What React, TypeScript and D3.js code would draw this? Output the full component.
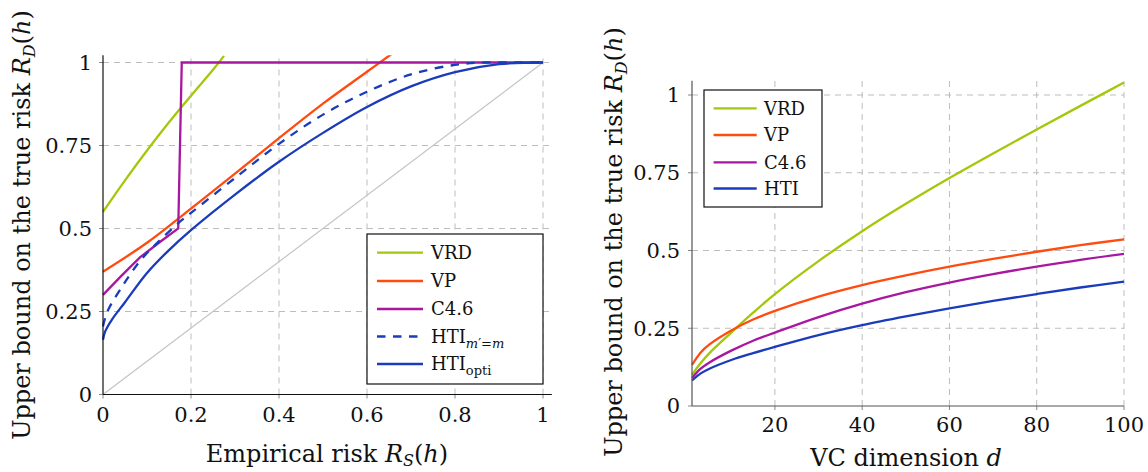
import React from "react";
import * as d3 from "d3";

// ---------- data: left chart (bound vs empirical risk) ----------
const vrdLX = [0, 0.05, 0.1, 0.15, 0.2, 0.25, 0.275];
const vrdLY = [0.55, 0.645, 0.735, 0.82, 0.9, 0.978, 1.02];
const vpLX = [0, 0.1, 0.2, 0.3, 0.4, 0.5, 0.6, 0.655];
const vpLY = [0.37, 0.457, 0.56, 0.665, 0.772, 0.876, 0.972, 1.025];
const c46LX = [0, 0.04, 0.084, 0.13, 0.171, 0.179, 1];
const c46LY = [0.3, 0.355, 0.413, 0.46, 0.5, 1.0, 1.0];
const htiMLX = [0, 0.01, 0.046, 0.084, 0.122, 0.171, 0.2, 0.3, 0.4, 0.5, 0.6, 0.7, 0.8, 0.87, 0.95, 1];
const htiMLY = [0.205, 0.25, 0.33, 0.402, 0.455, 0.516, 0.547, 0.652, 0.755, 0.843, 0.912, 0.964, 0.993, 1.0, 1.0, 1.0];
const htiOLX = [0, 0.005, 0.02, 0.05, 0.1, 0.15, 0.2, 0.3, 0.4, 0.5, 0.6, 0.7, 0.8, 0.9, 1];
const htiOLY = [0.165, 0.19, 0.225, 0.278, 0.366, 0.435, 0.495, 0.602, 0.701, 0.788, 0.866, 0.928, 0.971, 0.995, 1.0];
const diagX = [0, 1];
const diagY = [0, 1];
const leftXTicks = [0, 0.2, 0.4, 0.6, 0.8, 1];
const leftXTickLabels = ["0", "0.2", "0.4", "0.6", "0.8", "1"];
const yTicks = [0, 0.25, 0.5, 0.75, 1];
const yTickLabels = ["0", "0.25", "0.5", "0.75", "1"];

// ---------- data: right chart (bound vs VC dimension) ----------
const dims = [1, 3, 5, 10, 15, 20, 30, 40, 50, 60, 70, 80, 90, 100];
const vrdR = [0.1, 0.138, 0.17, 0.236, 0.3, 0.36, 0.466, 0.562, 0.65, 0.733, 0.812, 0.889, 0.965, 1.04];
const vpR = [0.132, 0.172, 0.198, 0.243, 0.278, 0.306, 0.352, 0.389, 0.42, 0.448, 0.473, 0.496, 0.517, 0.536];
const c46R = [0.09, 0.12, 0.14, 0.178, 0.21, 0.236, 0.286, 0.329, 0.366, 0.397, 0.424, 0.448, 0.47, 0.489];
const htiR = [0.082, 0.105, 0.12, 0.148, 0.17, 0.19, 0.228, 0.26, 0.288, 0.314, 0.338, 0.36, 0.381, 0.4];
const rightXTicks = [20, 40, 60, 80, 100];

const GREEN = "#a3c70a";
const ORANGE = "#ff4b10";
const MAGENTA = "#a8179f";
const BLUE = "#1b3cba";
const GRID = "#bdbdbd";
const FONT = "DejaVu Serif";

type Pt = [number, number];
const zip = (xs: number[], ys: number[]): Pt[] => xs.map((x, i) => [x, ys[i]]);

function YLabel({ x, y }: { x: number; y: number }) {
  return (
    <text
      transform={`translate(${x},${y}) rotate(-90)`}
      textAnchor="middle"
      fontFamily={FONT}
      fontSize={24}
      fill="#111"
    >
      Upper bound on the true risk{" "}
      <tspan fontStyle="italic">R</tspan>
      <tspan fontStyle="italic" fontSize={16} dy={5}>D</tspan>
      <tspan dy={-5}>(</tspan>
      <tspan fontStyle="italic">h</tspan>)
    </text>
  );
}

function LeftChart() {
  const x = d3.scaleLinear().domain([0, 1]).range([103, 543]);
  const y = d3.scaleLinear().domain([0, 1]).range([394.5, 62.5]);
  const xEnd = x(1.02);
  const yTop = y(1.022);
  const line = d3
    .line<Pt>()
    .x((d) => x(d[0]))
    .y((d) => y(d[1]))
    .curve(d3.curveCatmullRom.alpha(0.5));
  const lineLin = d3
    .line<Pt>()
    .x((d) => x(d[0]))
    .y((d) => y(d[1]));

  const legend = [
    { label: "VRD", color: GREEN, dash: undefined as string | undefined, sub: "" },
    { label: "VP", color: ORANGE, dash: undefined, sub: "" },
    { label: "C4.6", color: MAGENTA, dash: undefined, sub: "" },
    { label: "HTI", color: BLUE, dash: "8.5,7.5", sub: "m" },
    { label: "HTI", color: BLUE, dash: undefined, sub: "opti" },
  ];
  const legY = [252.7, 281, 309, 336.5, 364];

  return (
    <g>
      <defs>
        <clipPath id="clipL">
          <rect x={x(0) - 2} y={yTop} width={xEnd - x(0) + 4} height={y(0) - yTop + 2} />
        </clipPath>
      </defs>
      {leftXTicks.slice(1).map((t) => (
        <line key={"gx" + t} x1={x(t)} x2={x(t)} y1={y(0)} y2={yTop} stroke={GRID} strokeDasharray="6,5" />
      ))}
      {yTicks.slice(1).map((t) => (
        <line key={"gy" + t} x1={x(0)} x2={xEnd} y1={y(t)} y2={y(t)} stroke={GRID} strokeDasharray="6,5" />
      ))}
      {leftXTicks.map((t) => (
        <line key={"tx" + t} x1={x(t)} x2={x(t)} y1={y(0)} y2={y(0) + 4} stroke="#888" />
      ))}
      {yTicks.map((t) => (
        <line key={"ty" + t} x1={x(0) - 4} x2={x(0)} y1={y(t)} y2={y(t)} stroke="#888" />
      ))}
      <path d={lineLin(zip(diagX, diagY)) || ""} fill="none" stroke="#c4c4c4" strokeWidth={1.2} />
      <g clipPath="url(#clipL)" fill="none" strokeWidth={2.3}>
        <path d={line(zip(vrdLX, vrdLY)) || ""} stroke={GREEN} />
        <path d={line(zip(vpLX, vpLY)) || ""} stroke={ORANGE} />
        <path d={lineLin(zip(c46LX, c46LY)) || ""} stroke={MAGENTA} />
        <path d={line(zip(htiMLX, htiMLY)) || ""} stroke={BLUE} strokeDasharray="8.5,7.5" />
        <path d={line(zip(htiOLX, htiOLY)) || ""} stroke={BLUE} />
      </g>
      <line x1={x(0)} x2={x(0)} y1={y(0)} y2={yTop} stroke="#111" strokeWidth={1.2} />
      <line x1={x(0)} x2={xEnd} y1={y(0)} y2={y(0)} stroke="#111" strokeWidth={1.2} />
      {leftXTicks.map((t, i) => (
        <text key={"lx" + t} x={x(t)} y={y(0) + 20} dy="0.35em" textAnchor="middle" fontFamily={FONT} fontSize={21} fill="#111">
          {leftXTickLabels[i]}
        </text>
      ))}
      {yTicks.map((t, i) => (
        <text key={"ly" + t} x={92} y={y(t)} dy="0.35em" textAnchor="end" fontFamily={FONT} fontSize={21} fill="#111">
          {yTickLabels[i]}
        </text>
      ))}
      <text x={327} y={462} textAnchor="middle" fontFamily={FONT} fontSize={24} fill="#111">
        Empirical risk <tspan fontStyle="italic">R</tspan>
        <tspan fontStyle="italic" fontSize={16} dy={4}>S</tspan>
        <tspan dy={-4}>(</tspan>
        <tspan fontStyle="italic">h</tspan>)
      </text>
      <YLabel x={30} y={225} />
      <rect x={367} y={234} width={176} height={150} fill="#fff" stroke="#111" strokeWidth={1.2} />
      {legend.map((l, i) => (
        <g key={"lg" + i}>
          <line x1={377} x2={423} y1={legY[i]} y2={legY[i]} stroke={l.color} strokeWidth={2.3} strokeDasharray={l.dash} />
          <text x={431} y={legY[i]} dy="0.36em" fontFamily={FONT} fontSize={18} fill="#111">
            {l.label}
            {l.sub === "m" && (
              <tspan fontSize={13} dy={5}>
                <tspan fontStyle="italic">m</tspan>′=<tspan fontStyle="italic">m</tspan>
              </tspan>
            )}
            {l.sub === "opti" && (
              <tspan fontSize={13} dy={5}>
                opti
              </tspan>
            )}
          </text>
        </g>
      ))}
    </g>
  );
}

function RightChart() {
  const x = d3.scaleLinear().domain([1, 100]).range([692, 1124]);
  const y = d3.scaleLinear().domain([0, 1]).range([406, 95]);
  const yTop = y(1.046);
  const line = d3
    .line<Pt>()
    .x((d) => x(d[0]))
    .y((d) => y(d[1]))
    .curve(d3.curveCatmullRom.alpha(0.5));
  const series = [
    { label: "VRD", color: GREEN, values: vrdR },
    { label: "VP", color: ORANGE, values: vpR },
    { label: "C4.6", color: MAGENTA, values: c46R },
    { label: "HTI", color: BLUE, values: htiR },
  ];
  const legY = [108.3, 135, 162.3, 188.5];
  return (
    <g>
      {rightXTicks.map((t) => (
        <line key={"gx" + t} x1={x(t)} x2={x(t)} y1={y(0)} y2={yTop} stroke={GRID} strokeDasharray="6,5" />
      ))}
      {yTicks.slice(1).map((t) => (
        <line key={"gy" + t} x1={x(1)} x2={x(100)} y1={y(t)} y2={y(t)} stroke={GRID} strokeDasharray="6,5" />
      ))}
      {rightXTicks.map((t) => (
        <line key={"tx" + t} x1={x(t)} x2={x(t)} y1={y(0)} y2={y(0) + 4} stroke="#888" />
      ))}
      {yTicks.map((t) => (
        <line key={"ty" + t} x1={x(1) - 4} x2={x(1)} y1={y(t)} y2={y(t)} stroke="#888" />
      ))}
      <g fill="none" strokeWidth={2.3}>
        {series.map((s) => (
          <path key={s.label} d={line(zip(dims, s.values)) || ""} stroke={s.color} />
        ))}
      </g>
      <line x1={x(1)} x2={x(1)} y1={y(0)} y2={yTop} stroke="#555" strokeWidth={1.2} />
      <line x1={x(1)} x2={x(100)} y1={y(0)} y2={y(0)} stroke="#555" strokeWidth={1.2} />
      {rightXTicks.map((t) => (
        <text key={"lx" + t} x={x(t)} y={y(0) + 19} dy="0.35em" textAnchor="middle" fontFamily={FONT} fontSize={21} fill="#111">
          {t}
        </text>
      ))}
      {yTicks.map((t, i) => (
        <text key={"ly" + t} x={680} y={y(t)} dy="0.35em" textAnchor="end" fontFamily={FONT} fontSize={21} fill="#111">
          {yTickLabels[i]}
        </text>
      ))}
      <text x={906} y={466} textAnchor="middle" fontFamily={FONT} fontSize={24} fill="#111">
        VC dimension <tspan fontStyle="italic">d</tspan>
      </text>
      <YLabel x={622} y={242} />
      <rect x={704} y={90} width={118} height={117} fill="#fff" stroke="#111" strokeWidth={1.2} />
      {series.map((s, i) => (
        <g key={"lg" + i}>
          <line x1={713.6} x2={756.7} y1={legY[i]} y2={legY[i]} stroke={s.color} strokeWidth={2.3} />
          <text x={764} y={legY[i]} dy="0.36em" fontFamily={FONT} fontSize={18} fill="#111">
            {s.label}
          </text>
        </g>
      ))}
    </g>
  );
}

export default function App() {
  return (
    <svg
      width={1148}
      height={472}
      viewBox="0 0 1148 472"
      style={{ position: "absolute", left: 0, top: 0, background: "#fff" }}
    >
      <rect width={1148} height={472} fill="#fff" />
      <LeftChart />
      <RightChart />
    </svg>
  );
}
